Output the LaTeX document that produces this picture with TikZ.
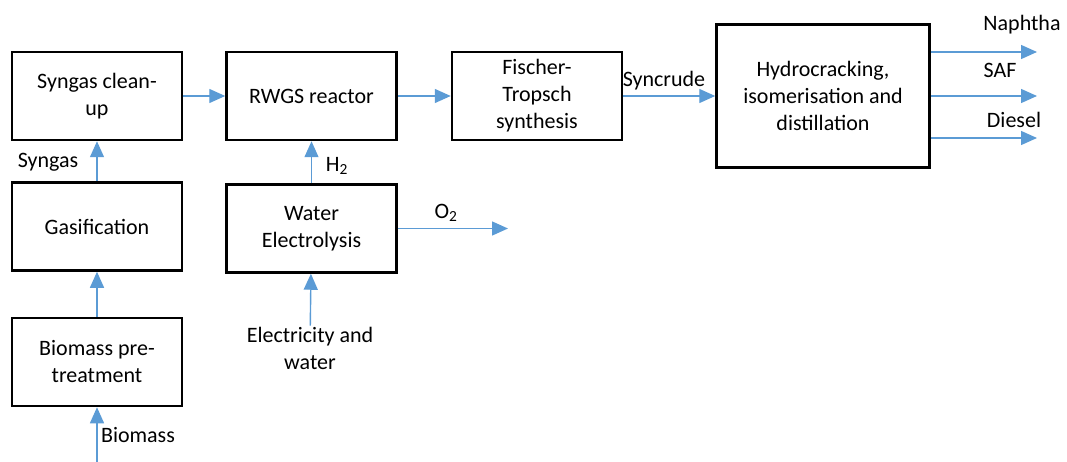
\documentclass[tikz,border=0pt]{standalone}
\usepackage{fontspec}
\setmainfont{Carlito}
\usetikzlibrary{arrows.meta,positioning}
\definecolor{flowblue}{RGB}{91,155,213}

\begin{document}
\begin{tikzpicture}[x=1pt, y=-1pt, node distance=42pt and 42pt, >={Triangle[length=16pt,width=14pt]}, font=\fontsize{22}{27}\selectfont]
  \tikzstyle{unit}=[draw, line width=2.5pt, align=center, minimum width=170pt, minimum height=88pt, inner sep=0pt]
  \tikzstyle{flow}=[->, flowblue, line width=1.4pt]
  \useasboundingbox (0,0) rectangle (1067,462);

  \node[unit] (clean) at (97,96) {Syngas clean-\\up};
  \node[unit, right=42pt of clean] (rwgs) {RWGS reactor};
  \node[unit, right=53pt of rwgs] (ft) {Fischer-\\Tropsch\\synthesis};
  \node[unit, minimum width=213pt, minimum height=143pt, right=92pt of ft] (hydro) {Hydrocracking,\\isomerisation and\\distillation};
  \node[unit, below=40pt of clean] (gasif) {Gasification};
  \node[unit, below=45pt of gasif] (pretreat) {Biomass pre-\\treatment};
  \node[unit, below=42pt of rwgs] (elec) {Water\\Electrolysis};

  \node[inner sep=1pt, align=center] (power) at (310,348) {Electricity and\\water};
  \coordinate (bioin) at (97,462);
  \coordinate (o2out) at (508,0);
  \coordinate (naphout) at (1037,52);
  \coordinate (safout) at (1037,96);
  \coordinate (dieselout) at (1037,138);

  \draw[flow] (clean) -- (rwgs); \draw[flow] (rwgs) -- (ft); \draw[flow] (ft) -- (hydro);
  \draw[flow] (gasif) -- (clean); \draw[flow] (pretreat) -- (gasif); \draw[flow] (bioin) -- (pretreat);
  \draw[flow] (elec) -- (rwgs); \draw[flow] (power) -- (elec); \draw[flow] (elec) -- (elec -| o2out);
  \draw[flow] (hydro.east |- naphout) -- (naphout);
  \draw[flow] (hydro.east |- safout) -- (safout);
  \draw[flow] (hydro.east |- dieselout) -- (dieselout);

  \node (syngaslbl) at (48,162) {Syngas};
  \node (h2lbl) at (337,166) {H\textsubscript{2}};
  \node (o2lbl) at (446,213) {O\textsubscript{2}};
  \node (syncrudelbl) at (664,81) {Syncrude};
  \node (biomasslbl) at (138,435) {Biomass};
  \node (naphlbl) at (1022,25) {Naphtha};
  \node (saflbl) at (1000,70) {SAF};
  \node (diesellbl) at (1014,120) {Diesel};
\end{tikzpicture}
\end{document}
